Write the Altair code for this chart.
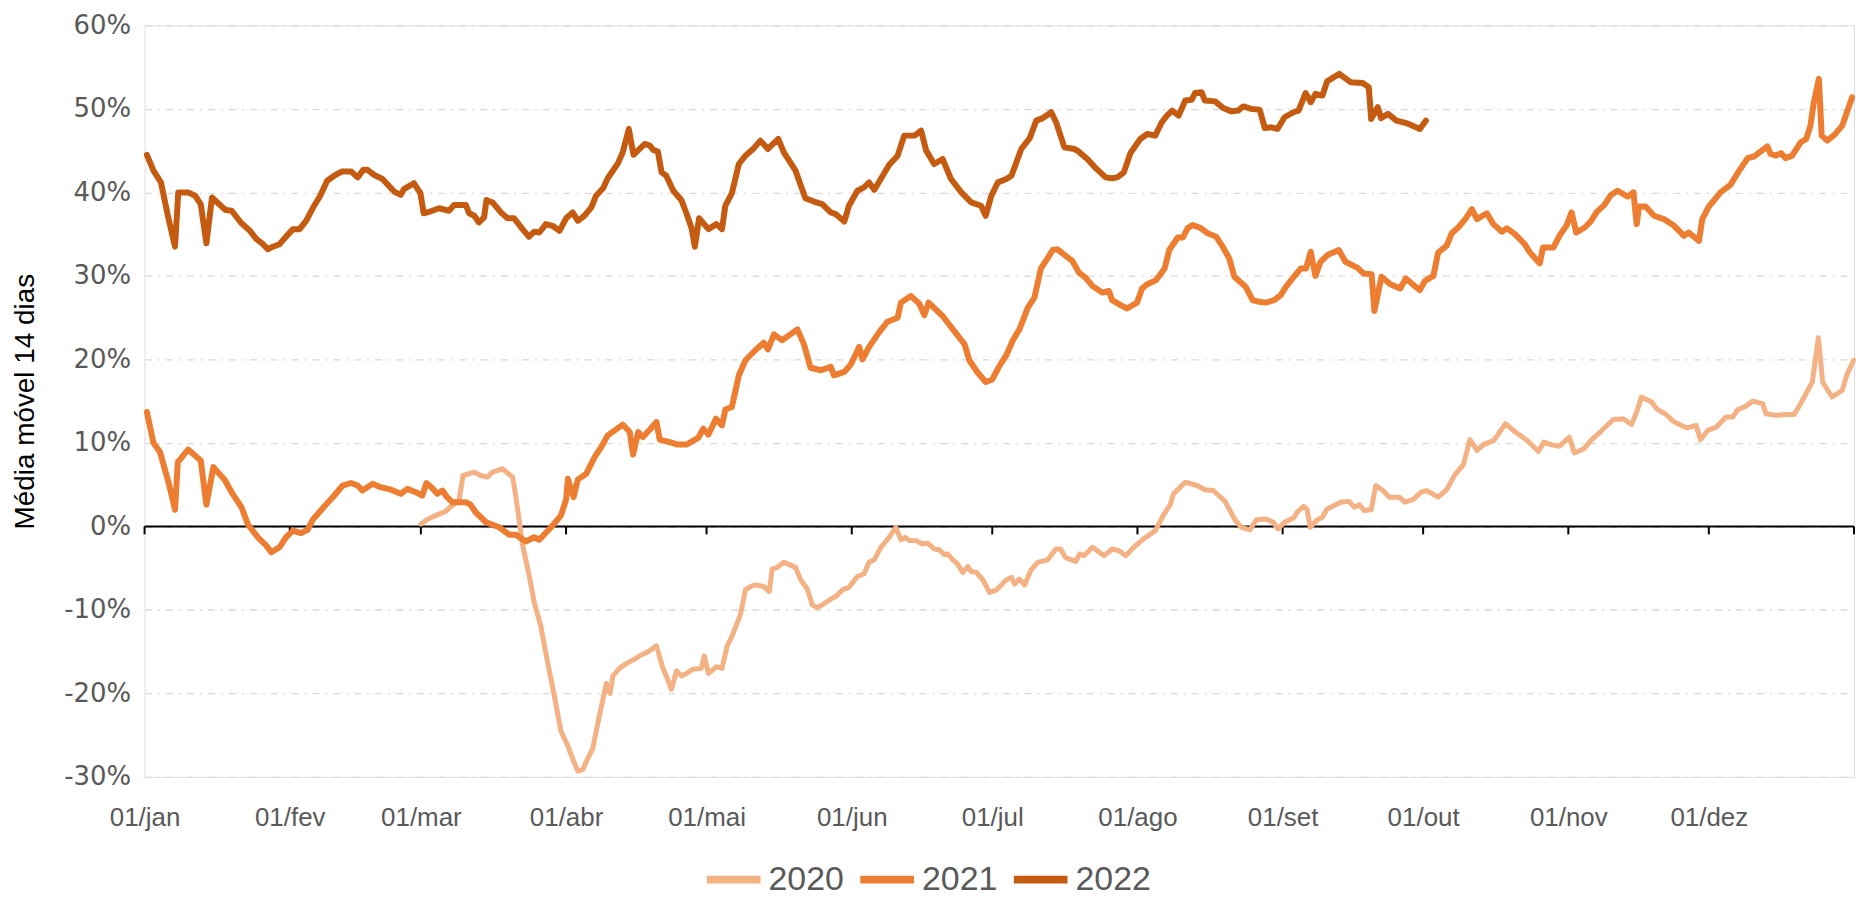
import altair as alt
import pandas as pd

# ---------------- data ----------------
MONTH_DAYS = [0, 31, 59, 90, 120, 151, 181, 212, 243, 273, 304, 334]
MONTH_LABELS = ["01/jan", "01/fev", "01/mar", "01/abr", "01/mai", "01/jun",
                "01/jul", "01/ago", "01/set", "01/out", "01/nov", "01/dez"]
TICK_DAYS = MONTH_DAYS + [365]
Y_TICKS = [-30, -20, -10, 0, 10, 20, 30, 40, 50, 60]
SERIES = ["2020", "2021", "2022"]
COLORS = ["#F4B183", "#ED7D31", "#C55A11"]

dias_2020 = [59.0, 60.3, 62.1, 64.3, 65.4, 67.1, 68.0, 70.4, 71.8, 73.2, 74.3, 76.4, 78.6, 79.3,
             80.7, 82.1, 83.2, 84.6, 86.1, 87.5, 88.9, 90.4, 91.4, 92.5, 93.6, 94.6, 95.7, 97.1,
             98.6, 99.4, 100.0, 101.4, 102.9, 104.6, 105.7, 107.5, 109.3, 110.7, 111.4, 112.5,
             113.6, 114.6, 115.7, 117.1, 118.9, 119.5, 120.4, 122.1, 123.3, 124.4, 125.4, 127.2,
             128.3, 129.4, 130.4, 132.2, 133.4, 134.0, 135.1, 136.5, 139.0, 140.1, 141.5, 142.6,
             143.6, 144.7, 146.5, 147.6, 149.0, 150.4, 152.2, 153.6, 154.7, 155.8, 157.2, 159.0,
             160.4, 161.5, 162.4, 163.3, 164.7, 166.1, 167.2, 168.6, 169.7, 170.8, 171.5, 172.6,
             173.6, 174.7, 175.8, 176.5, 177.6, 179.0, 180.4, 181.9, 184.0, 185.1, 185.8, 186.8,
             187.9, 189.3, 190.7, 192.8, 194.6, 195.6, 196.6, 198.8, 199.7, 200.6, 202.4, 204.9,
             206.6, 208.0, 209.5, 211.2, 213.3, 215.8, 217.6, 219.0, 219.7, 222.2, 224.7, 226.4,
             228.2, 230.7, 232.8, 234.2, 236.0, 237.4, 239.5, 241.0, 242.0, 243.4, 245.3, 246.1,
             247.5, 248.2, 248.9, 250.4, 251.5, 252.5, 254.0, 255.4, 257.2, 258.3, 259.4, 260.4,
             261.9, 262.9, 264.4, 265.8, 268.0, 269.1, 270.8, 272.6, 273.7, 276.2, 278.0, 279.8,
             281.6, 283.0, 284.5, 285.9, 288.1, 290.6, 292.7, 295.2, 297.6, 298.8, 300.3, 302.1,
             304.2, 305.3, 307.3, 309.0, 310.8, 313.6, 315.7, 317.5, 318.6, 319.6, 321.8, 322.8,
             324.9, 326.4, 329.2, 329.9, 331.3, 332.2, 333.8, 335.6, 337.7, 339.1, 340.2, 341.9,
             343.3, 345.5, 346.2, 348.3, 350.4, 352.2, 353.6, 356.1, 357.4, 358.3, 360.3, 362.5,
             363.5, 364.9]
valores_2020 = [0.3, 0.8, 1.3, 1.8, 2.4, 3.0, 6.1, 6.5, 6.1, 5.9, 6.5, 6.9, 5.9, 3.5,
                -2.2, -5.8, -9.1, -11.9, -16.4, -20.3, -24.5, -26.3, -27.8, -29.3, -29.1, -27.8, -26.6, -22.7,
                -18.8, -20.0, -17.9, -17.0, -16.4, -15.9, -15.5, -15.0, -14.3, -17.0, -17.9, -19.5,
                -17.3, -17.9, -17.6, -17.1, -17.0, -15.5, -17.6, -16.8, -17.0, -14.3, -13.2, -10.6,
                -7.6, -7.2, -7.0, -7.2, -7.8, -5.1, -4.9, -4.3, -4.9, -6.4, -7.5, -9.4,
                -9.7, -9.4, -8.7, -8.4, -7.6, -7.3, -6.0, -5.7, -4.3, -4.0, -2.5, -1.3,
                -0.1, -1.6, -1.3, -1.7, -1.7, -2.1, -2.0, -2.7, -2.8, -3.4, -3.3, -4.0,
                -4.5, -5.5, -4.8, -5.4, -5.5, -6.4, -7.9, -7.6, -6.4, -6.1, -6.9, -6.3,
                -7.0, -5.2, -4.3, -4.0, -2.7, -2.7, -3.7, -4.2, -3.3, -3.5, -2.5, -3.5,
                -2.7, -2.9, -3.5, -2.5, -1.5, -0.5, 1.4, 2.6, 3.9, 5.3, 4.9, 4.4,
                4.3, 3.0, 0.8, -0.1, -0.4, 0.8, 0.9, 0.5, -0.3, 0.5, 1.0, 1.7,
                2.4, 2.1, -0.1, 0.8, 1.1, 2.1, 2.5, 2.9, 3.0, 2.3, 2.6, 1.9,
                2.0, 4.9, 4.3, 3.5, 3.5, 2.9, 3.2, 4.1, 4.3, 3.5, 4.4, 6.2,
                7.4, 10.4, 9.1, 9.8, 10.3, 12.3, 11.3, 10.3, 9.0, 10.1, 9.8, 9.6,
                10.7, 8.8, 9.3, 10.4, 11.3, 12.8, 12.9, 12.2, 13.7, 15.5, 14.9, 14.1,
                13.4, 12.6, 11.8, 11.9, 12.1, 10.4, 11.5, 11.9, 13.1, 13.1, 14.0, 14.4,
                15.0, 14.7, 13.5, 13.3, 13.4, 13.4, 14.7, 17.3, 22.6, 17.3, 15.5, 16.3,
                18.2, 19.9]

dias_2021 = [0.5, 1.9, 3.3, 5.1, 6.5, 7.1, 9.3, 12.0, 13.2, 14.7, 17.1, 18.9, 20.7, 22.1,
             24.2, 26.0, 27.1, 28.8, 30.2, 31.7, 33.4, 34.8, 35.9, 37.3, 38.7, 40.2, 42.3, 44.1,
             45.5, 46.5, 48.7, 50.4, 52.6, 54.7, 56.1, 57.9, 59.3, 60.2, 61.4, 62.5, 63.6, 64.6,
             65.7, 68.6, 69.6, 70.7, 72.9, 75.7, 77.9, 79.3, 81.4, 83.2, 84.3, 86.8, 88.9, 90.0,
             90.4, 91.6, 92.5, 94.3, 96.1, 97.5, 98.9, 100.4, 102.1, 103.6, 104.3, 105.4, 106.4,
             107.9, 109.3, 110.0, 112.1, 113.9, 115.7, 118.2, 119.3, 120.4, 122.0, 123.3, 124.0,
             125.4, 126.9, 128.3, 130.4, 132.2, 133.1, 134.4, 136.1, 137.9, 139.4, 140.8, 142.2,
             144.4, 146.5, 147.2, 149.4, 150.8, 152.6, 153.3, 154.7, 156.9, 158.6, 160.8, 161.5,
             163.6, 165.4, 166.5, 167.4, 170.4, 172.6, 175.1, 176.1, 177.9, 179.6, 181.0, 182.6,
             184.0, 185.4, 186.8, 188.6, 190.0, 191.4, 192.8, 193.9, 194.9, 196.0, 198.1, 199.5,
             200.9, 202.4, 204.5, 205.9, 206.6, 208.4, 209.8, 211.9, 213.0, 214.1, 216.0, 217.8,
             218.8, 220.6, 221.7, 222.7, 223.8, 225.6, 227.0, 228.8, 230.2, 231.6, 232.7, 235.1,
             236.6, 238.0, 239.4, 241.2, 242.6, 243.7, 245.4, 246.9, 248.0, 249.0, 250.0, 251.1,
             252.6, 255.0, 256.4, 258.9, 260.3, 262.0, 262.6, 264.1, 266.0, 268.1, 269.3, 271.2,
             272.3, 273.4, 275.2, 276.2, 278.0, 279.1, 280.5, 282.0, 283.4, 284.5, 286.6, 288.0,
             289.8, 290.9, 292.6, 294.7, 295.8, 297.9, 298.6, 300.8, 302.2, 303.6, 304.7, 305.7,
             307.5, 308.9, 310.0, 311.7, 313.1, 314.5, 316.7, 317.9, 318.6, 319.1, 320.5, 322.3,
             324.4, 326.6, 328.7, 329.7, 331.9, 332.6, 334.0, 336.5, 338.6, 340.5, 342.3, 343.7,
             344.8, 346.5, 347.2, 348.3, 349.4, 350.4, 351.8, 353.6, 354.8, 355.7, 356.4, 357.5,
             358.1, 359.3, 361.0, 362.5, 364.6]
valores_2021 = [13.7, 10.0, 8.9, 5.3, 2.0, 7.7, 9.2, 7.9, 2.6, 7.1, 5.6, 3.8, 2.3, 0.2,
                -1.3, -2.3, -3.1, -2.5, -1.3, -0.5, -0.8, -0.4, 0.8, 1.7, 2.6, 3.5, 4.9, 5.2,
                4.9, 4.3, 5.1, 4.7, 4.4, 3.9, 4.5, 4.1, 3.7, 5.2, 4.6, 3.9, 4.3, 3.5,
                2.9, 2.9, 2.6, 1.7, 0.5, -0.1, -1.0, -1.0, -1.8, -1.3, -1.6, -0.1, 1.3, 3.2,
                5.7, 3.5, 5.6, 6.3, 8.3, 9.5, 10.9, 11.5, 12.2, 11.3, 8.6, 11.3, 10.7,
                11.6, 12.5, 10.4, 10.1, 9.8, 9.8, 10.6, 11.7, 11.0, 12.9, 12.1, 14.0,
                14.3, 18.1, 19.9, 21.1, 22.0, 21.2, 23.0, 22.3, 23.0, 23.6, 21.8, 19.0,
                18.7, 19.1, 18.1, 18.5, 19.4, 21.5, 20.0, 21.5, 23.3, 24.5, 25.0, 26.8,
                27.6, 26.7, 25.3, 26.8, 25.2, 23.6, 21.8, 19.9, 18.4, 17.3, 17.6, 19.3,
                20.5, 22.3, 23.6, 26.2, 27.4, 30.9, 32.1, 33.1, 33.2, 32.7, 31.8, 30.4,
                29.8, 28.8, 28.0, 28.2, 27.1, 26.5, 26.1, 26.8, 28.5, 29.0, 29.5, 30.9,
                33.1, 34.6, 34.6, 35.7, 36.1, 35.7, 35.1, 34.7, 33.5, 32.1, 29.9, 28.7,
                27.1, 26.9, 26.8, 27.1, 27.7, 28.7, 29.9, 30.9, 30.9, 32.9, 30.0, 31.7,
                32.5, 33.1, 31.7, 31.0, 30.3, 30.2, 25.8, 29.9, 29.0, 28.5, 29.7, 28.8,
                28.3, 29.4, 30.0, 32.8, 33.6, 35.1, 35.8, 36.8, 38.0, 36.8, 37.5, 36.2,
                35.3, 35.7, 35.0, 33.8, 32.8, 31.5, 33.4, 33.4, 34.9, 36.0, 37.6, 35.2,
                35.8, 36.6, 37.6, 38.5, 39.7, 40.2, 39.5, 40.0, 36.2, 38.3, 38.3, 37.2,
                36.8, 36.0, 34.8, 35.2, 34.2, 36.8, 38.3, 40.0, 40.9, 42.6, 44.1, 44.3,
                44.8, 45.5, 44.6, 44.4, 44.7, 44.1, 44.4, 46.0, 46.4, 48.0, 50.7, 53.6,
                46.8, 46.2, 47.0, 48.0, 51.4]

dias_2022 = [0.5, 1.9, 3.5, 5.1, 6.5, 7.2, 9.3, 10.8, 12.0, 13.2, 14.4, 15.7, 17.3, 18.6,
             20.7, 22.5, 23.9, 25.3, 26.3, 27.4, 28.8, 30.2, 31.7, 33.1, 34.5, 35.9, 37.5, 39.0,
             40.5, 42.1, 44.1, 45.5, 46.7, 47.6, 49.0, 50.8, 53.3, 54.7, 55.4, 57.5, 58.9, 59.6,
             61.4, 62.9, 65.0, 66.1, 68.6, 69.3, 70.4, 71.4, 72.5, 73.0, 74.3, 76.1, 77.5, 78.9,
             80.7, 82.1, 83.2, 84.3, 85.7, 87.1, 88.6, 90.0, 91.4, 92.5, 93.9, 95.4, 96.4, 97.9,
             98.9, 101.1, 102.1, 103.4, 104.4, 106.8, 107.9, 108.6, 109.6, 110.4, 111.4, 112.9,
             114.6, 115.7, 116.8, 117.5, 118.4, 120.4, 122.1, 123.3, 124.0, 125.4, 126.9, 128.3,
             130.1, 131.5, 133.1, 135.3, 136.5, 139.0, 141.1, 142.9, 144.7, 146.5, 147.6, 149.4,
             150.4, 152.2, 153.6, 154.7, 155.8, 157.2, 159.0, 160.8, 162.2, 164.4, 165.8, 166.9,
             168.6, 170.4, 172.2, 174.4, 176.5, 178.6, 179.6, 180.8, 182.2, 184.0, 185.1, 187.2,
             189.0, 190.4, 191.8, 193.6, 194.7, 196.4, 198.5, 199.2, 201.3, 203.1, 205.2, 206.6,
             207.7, 209.1, 210.5, 212.6, 214.1, 215.8, 217.2, 218.3, 219.4, 220.8, 222.2, 223.6,
             224.3, 225.7, 226.4, 228.6, 230.3, 232.1, 233.5, 234.6, 236.3, 238.1, 239.2, 240.6,
             241.9, 243.4, 245.3, 246.4, 247.9, 249.0, 250.0, 251.5, 252.5, 255.1, 257.5, 260.1,
             261.4, 261.9, 263.3, 264.0, 265.5, 267.3, 269.4, 272.3, 273.6]
valores_2022 = [44.5, 42.6, 41.2, 36.9, 33.5, 40.0, 40.0, 39.6, 38.6, 33.9, 39.4, 38.7, 37.9, 37.8,
                36.3, 35.4, 34.4, 33.8, 33.2, 33.5, 33.8, 34.7, 35.6, 35.6, 36.6, 38.1, 39.6, 41.4,
                42.0, 42.5, 42.5, 41.8, 42.7, 42.7, 42.1, 41.6, 40.1, 39.7, 40.4, 41.1, 39.9, 37.5,
                37.8, 38.1, 37.8, 38.5, 38.5, 37.5, 37.2, 36.4, 37.0, 39.1, 38.8, 37.6, 36.9, 36.9,
                35.6, 34.7, 35.3, 35.2, 36.2, 36.0, 35.4, 36.9, 37.6, 36.6, 37.2, 38.2, 39.6, 40.5,
                41.7, 43.5, 44.8, 47.6, 44.5, 45.8, 45.6, 45.1, 44.9, 42.4, 42.0, 40.2,
                39.1, 37.5, 35.7, 33.5, 36.9, 35.6, 36.2, 35.6, 38.4, 39.9, 43.4, 44.4,
                45.3, 46.2, 45.2, 46.4, 44.8, 42.6, 39.3, 38.9, 38.6, 37.6, 37.4, 36.5,
                38.4, 40.2, 40.6, 41.2, 40.3, 41.6, 43.3, 44.4, 46.8, 46.8, 47.4, 45.0,
                43.4, 44.0, 41.6, 40.0, 38.8, 38.4, 37.2, 39.6, 41.2, 41.6, 42.0, 45.2,
                46.5, 48.6, 48.9, 49.6, 48.3, 45.4, 45.2, 45.0, 44.0, 42.9, 41.8, 41.7,
                41.8, 42.4, 44.7, 46.4, 47.0, 46.8, 48.4, 49.2, 49.8, 49.2, 51.0, 51.1,
                51.9, 52.0, 51.0, 50.9, 50.1, 49.7, 49.8, 50.3, 50.0, 49.9, 47.7, 47.8,
                47.6, 49.0, 49.6, 49.8, 51.9, 50.8, 51.8, 51.6, 53.3, 54.2, 53.2, 53.1,
                52.6, 48.8, 50.2, 48.9, 49.4, 48.6, 48.3, 47.6, 48.6]

# ---------------- tables ----------------
rows = []
for serie, dias, vals in [("2020", dias_2020, valores_2020),
                          ("2021", dias_2021, valores_2021),
                          ("2022", dias_2022, valores_2022)]:
    assert len(dias) == len(vals), serie
    for i, (d, v) in enumerate(zip(dias, vals)):
        rows.append({"serie": serie, "dia": d, "valor": v, "ordem": i})
df = pd.DataFrame(rows)

ticks_df = pd.DataFrame({"dia": TICK_DAYS, "valor": [0] * len(TICK_DAYS),
                         "fim": [-0.95] * len(TICK_DAYS)})
zero_df = pd.DataFrame({"valor": [0]})

# ---------------- styling ----------------
LABEL_FONT = "Liberation Sans, Arial, sans-serif"
VALUE_FONT = "DejaVu Sans, Verdana, sans-serif"
GREY = "#595959"

x_scale = alt.Scale(domain=[0, 365], nice=False, zero=False)
y_scale = alt.Scale(domain=[-30, 60], nice=False, zero=False)

month_expr = "[" + ",".join("'%s'" % m for m in MONTH_LABELS) + "][indexof([" + \
    ",".join(str(d) for d in MONTH_DAYS) + "], datum.value)]"

X_AXIS = alt.Axis(values=MONTH_DAYS, labelExpr=month_expr, title=None,
                  domain=False, ticks=False, grid=False, labelFlush=False,
                  labelOverlap=False, labelFont=LABEL_FONT, labelFontSize=26,
                  labelColor=GREY, labelPadding=28)
Y_AXIS = alt.Axis(values=Y_TICKS, labelExpr="datum.value + '%'",
                  title="Média móvel 14 dias", titleFont=LABEL_FONT,
                  titleFontSize=28, titleFontWeight="normal", titleColor="black",
                  titleAngle=270, titleBaseline="alphabetic", titleAlign="center",
                  titleX=-111, titleY=377,
                  domain=False, ticks=False, tickSize=0, labelFlush=False,
                  grid=True, gridColor="#d9d9d9", gridWidth=1.3, gridDash=[7, 6, 2, 6],
                  labelFont=VALUE_FONT, labelFontSize=26, labelColor=GREY, labelPadding=14)
LEGEND = alt.Legend(title=None, orient="none", legendX=560, legendY=826,
                    direction="horizontal", symbolType="stroke",
                    symbolSize=2900, symbolStrokeWidth=8,
                    labelFont=LABEL_FONT, labelFontSize=34,
                    labelColor=GREY, labelOffset=4, columnPadding=0, padding=0)
COLOR = alt.Color("serie:N", scale=alt.Scale(domain=SERIES, range=COLORS), legend=LEGEND)

zero_line = alt.Chart(zero_df).mark_rule(color="black", strokeWidth=2).encode(
    y=alt.Y("valor:Q", scale=y_scale, axis=Y_AXIS)
)

tick_marks = alt.Chart(ticks_df).mark_rule(color="black", strokeWidth=2).encode(
    x=alt.X("dia:Q", scale=x_scale, axis=X_AXIS),
    y=alt.Y("valor:Q", scale=y_scale, axis=Y_AXIS),
    y2="fim:Q",
)


def series_layer(names, width):
    return alt.Chart(df).transform_filter(
        alt.FieldOneOfPredicate(field="serie", oneOf=names)
    ).mark_line(strokeJoin="round", strokeCap="round", strokeWidth=width).encode(
        x=alt.X("dia:Q", scale=x_scale, axis=X_AXIS),
        y=alt.Y("valor:Q", scale=y_scale, axis=Y_AXIS),
        color=COLOR,
        order=alt.Order("ordem:Q"),
    )


line_2020 = series_layer(["2020"], 5)
line_2021 = series_layer(["2021"], 6)
line_2022 = series_layer(["2022"], 6)

chart = alt.layer(zero_line, tick_marks, line_2020, line_2021, line_2022).properties(
    width=1715, height=754,
    padding={"left": 137, "top": 16, "right": 2, "bottom": 121},
    autosize=alt.AutoSizeParams(type="none"),
).configure_view(strokeWidth=0).configure(background="white")

chart.save("out.html", embed_options={"renderer": "svg", "actions": False})
